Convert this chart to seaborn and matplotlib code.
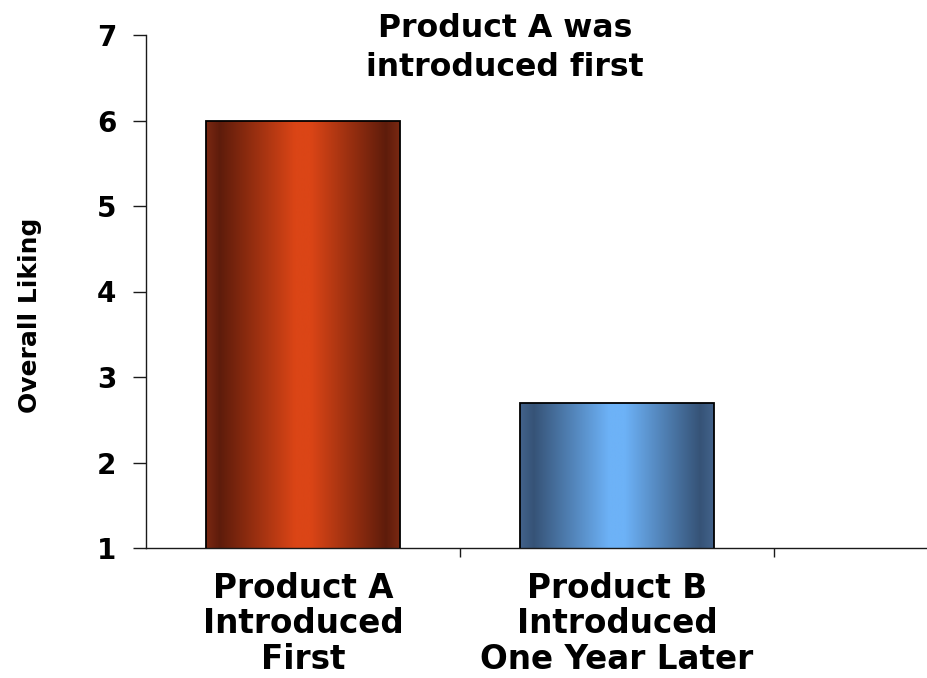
import numpy as np
import pandas as pd
import matplotlib
matplotlib.use("Agg")
import matplotlib.pyplot as plt
from matplotlib.colors import LinearSegmentedColormap
import seaborn as sns

# Chart content
products = ["Product A\nIntroduced\nFirst", "Product B\nIntroduced\nOne Year Later"]
liking = [6.0, 2.7]
# (rim, shadow, highlight) colours for each bar's cylinder shading
bar_shades = [
    ("#7a2812", "#5e1c0b", "#db4516"),
    ("#42628a", "#365377", "#6db2f7"),
]
title = "Product A was\nintroduced first"
y_label = "Overall Liking"
y_ticks = [1, 2, 3, 4, 5, 6, 7]
y_range = (1, 7)
slot_edges = [0.5, 1.5]

sns.set_theme(style="ticks")
plt.rcParams["font.family"] = ["DejaVu Sans"]
plt.rcParams["text.color"] = "black"
plt.rcParams["axes.labelcolor"] = "black"

W, H = 927, 678
fig = plt.figure(figsize=(W / 100, H / 100), dpi=100)
ax = fig.add_axes([146 / W, 1 - 548 / H, (W - 146) / W, (548 - 35) / H])

df = pd.DataFrame({"product": products, "liking": liking})
sns.barplot(data=df, x="product", y="liking", order=products, width=0.615,
            color="white", edgecolor="black", linewidth=1.3, ax=ax)

# Shade each bar with a horizontal gradient clipped to its outline
for patch, (rim, shadow, light) in zip(ax.patches, bar_shades):
    cmap = LinearSegmentedColormap.from_list(
        "cyl", [(0.0, rim), (0.07, shadow), (0.46, light), (0.54, light),
                (0.93, shadow), (1.0, rim)])
    x0 = patch.get_x()
    x1 = x0 + patch.get_width()
    y0 = max(patch.get_y(), y_range[0])
    y1 = patch.get_y() + patch.get_height()
    grad = np.linspace(0, 1, 256).reshape(1, -1)
    img = ax.imshow(grad, extent=[x0, x1, y0, y1], aspect="auto", cmap=cmap,
                    origin="lower", interpolation="bilinear", zorder=2)
    img.set_clip_path(patch)
    patch.set_facecolor("none")
    patch.set_zorder(3)

ax.set_xlim(-0.5, 1.5 + 153 / 314)
ax.set_ylim(*y_range)
ax.set_yticks(y_ticks)
ax.set_xticks([0, 1])
ax.set_xticklabels(products)
ax.set_xticks(slot_edges, minor=True)

ax.tick_params(axis="x", which="major", length=0, pad=17, labelsize=23.5,
               labelcolor="black")
ax.tick_params(axis="x", which="minor", length=6.5, width=1.0, color="#1a1a1a",
               direction="out")
ax.tick_params(axis="y", length=9.4, width=1.0, color="#1a1a1a", pad=12,
               labelsize=20, direction="out", labelcolor="black")
for lab in ax.get_xticklabels():
    lab.set_fontweight("bold")
    lab.set_linespacing(1.1)
for lab in ax.get_yticklabels():
    lab.set_fontweight("bold")

sns.despine(ax=ax)
for side in ("left", "bottom"):
    ax.spines[side].set_linewidth(1.0)
    ax.spines[side].set_color("#1a1a1a")

ax.set_xlabel("")
ax.set_ylabel(y_label, fontsize=18, fontweight="bold", color="black")
ax.yaxis.set_label_coords(-0.133, 0.454)

fig.text(505 / W, 1 - 13 / H, title, ha="center", va="top", fontsize=22.7,
         fontweight="bold", linespacing=1.35)

fig.savefig("out.png", dpi=100, facecolor="white")
